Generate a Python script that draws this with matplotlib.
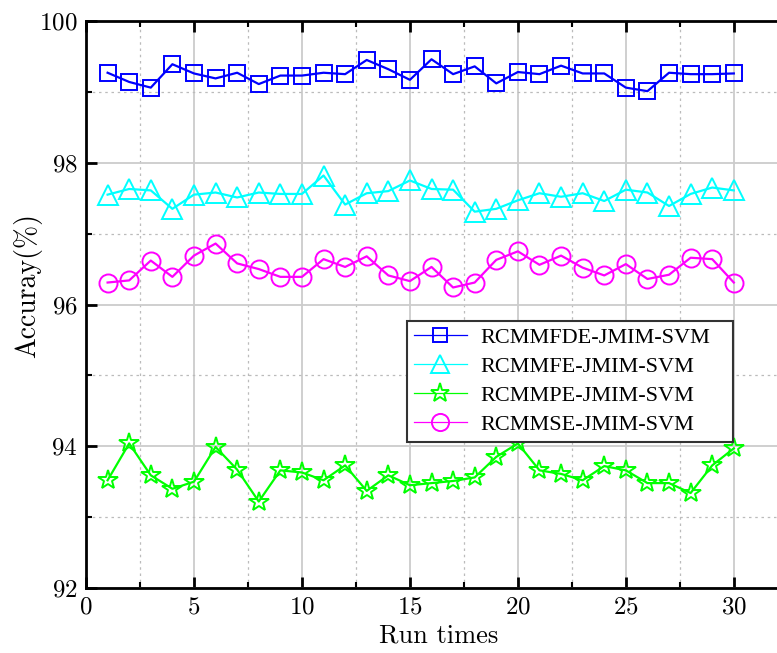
import matplotlib
matplotlib.use("Agg")
import matplotlib.pyplot as plt
from matplotlib.lines import Line2D
from matplotlib.ticker import MultipleLocator

runs = list(range(1, 31))
rcmmfde = [99.27, 99.14, 99.06, 99.39, 99.26, 99.19, 99.27, 99.11, 99.23, 99.23,
           99.27, 99.25, 99.45, 99.32, 99.17, 99.46, 99.25, 99.36, 99.12, 99.28,
           99.25, 99.37, 99.26, 99.26, 99.06, 99.01, 99.27, 99.25, 99.25, 99.26]
rcmmfe = [97.55, 97.63, 97.61, 97.35, 97.55, 97.58, 97.51, 97.58, 97.56, 97.56,
          97.82, 97.41, 97.57, 97.60, 97.75, 97.63, 97.62, 97.31, 97.35, 97.47,
          97.57, 97.52, 97.57, 97.46, 97.62, 97.58, 97.39, 97.56, 97.65, 97.61]
rcmmpe = [93.52, 94.04, 93.59, 93.40, 93.50, 93.99, 93.67, 93.22, 93.66, 93.63,
          93.52, 93.73, 93.37, 93.59, 93.45, 93.48, 93.51, 93.56, 93.85, 94.04,
          93.66, 93.61, 93.52, 93.72, 93.66, 93.48, 93.48, 93.34, 93.73, 93.97]
rcmmse = [96.31, 96.34, 96.62, 96.39, 96.69, 96.86, 96.58, 96.50, 96.39, 96.39,
          96.64, 96.53, 96.68, 96.41, 96.33, 96.53, 96.24, 96.31, 96.63, 96.75,
          96.56, 96.69, 96.52, 96.41, 96.57, 96.36, 96.42, 96.66, 96.64, 96.31]
labels = ["RCMMFDE-JMIM-SVM", "RCMMFE-JMIM-SVM", "RCMMPE-JMIM-SVM", "RCMMSE-JMIM-SVM"]

plt.rcParams['font.family'] = ['cmr10', 'DejaVu Serif']
plt.rcParams['axes.formatter.use_mathtext'] = True
plt.rcParams['mathtext.fontset'] = 'cm'

fig = plt.figure(figsize=(7.77, 6.53), dpi=100)
ax = fig.add_axes([86/777, 1-588/653, 691/777, 567/653])

series = [
    (rcmmfde, '#0000ff', 's', 11),
    (rcmmfe, '#00ffff', '^', 14),
    (rcmmpe, '#00ff00', '*', 15),
    (rcmmse, '#ff00ff', 'o', 13),
]
handles = []
for (vals, c, m, ms), lab in zip(series, labels):
    ax.plot(runs, vals, color=c, lw=1.6, marker=m, ms=ms, mfc='none',
            mec=c, mew=1.4, zorder=3)
    handles.append(Line2D([], [], color=c, lw=0.9, marker=m, ms=ms*0.95,
                          mfc='none', mec=c, mew=1.4))

ax.set_xlim(0, 32)
ax.set_ylim(92, 100)
ax.xaxis.set_major_locator(MultipleLocator(5))
ax.xaxis.set_minor_locator(MultipleLocator(2.5))
ax.yaxis.set_major_locator(MultipleLocator(2))
ax.yaxis.set_minor_locator(MultipleLocator(1))
ax.grid(which='major', color='#cccccc', lw=1.3, ls='-', zorder=0)
ax.grid(which='minor', color='#bbbbbb', lw=0.9, ls=(0, (2, 3)), zorder=0)
ax.set_axisbelow(True)

for s in ['left', 'bottom', 'top']:
    ax.spines[s].set_linewidth(2)
ax.spines['right'].set_visible(False)
ax.tick_params(which='major', direction='in', length=8, width=2,
               labelsize=18, top=True, right=False, pad=6)
ax.tick_params(which='minor', direction='in', length=4, width=1.5,
               top=True, right=False)

ax.set_xlabel("Run times", fontsize=19)
ax.set_ylabel("Accuray(%)", fontsize=20)
ax.xaxis.set_label_coords(0.51, -0.063)
ax.yaxis.set_label_coords(-0.064, 0.534)

x0 = (407 - 86) / 691
x1 = (733 - 86) / 691
ytop = (588 - 321) / 567
leg = ax.legend(handles, labels, loc='upper left',
                bbox_to_anchor=(x0, ytop - 0.3, x1 - x0, 0.3), mode='expand',
                borderaxespad=0, fancybox=False, edgecolor='#333333',
                framealpha=1, handlelength=2.4, handletextpad=0.6,
                labelspacing=0.38, borderpad=0.3,
                prop={'family': 'Liberation Serif', 'size': 16})
leg.get_frame().set_linewidth(1.5)

fig.savefig("out.png", dpi=100)
